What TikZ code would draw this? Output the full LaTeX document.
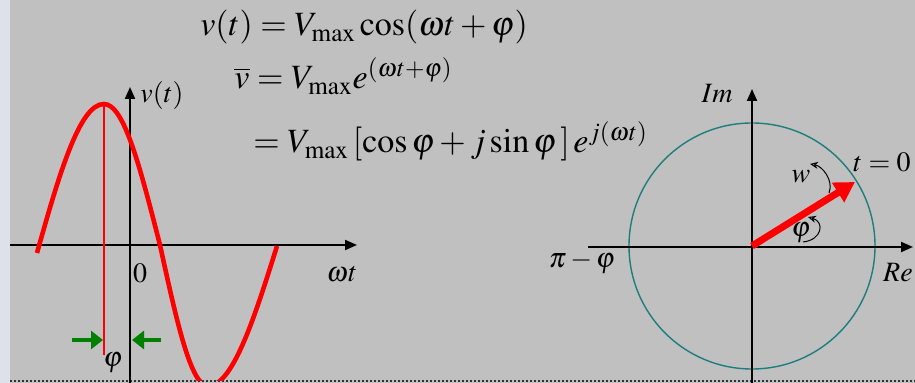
\documentclass[tikz,border=0pt]{standalone}
\usepackage{mathptmx}
\usetikzlibrary{arrows.meta}

\definecolor{bggray}{RGB}{192,192,192}
\definecolor{stripblue}{RGB}{221,226,234}
\definecolor{circteal}{RGB}{30,125,125}
\definecolor{arrgreen}{RGB}{0,128,0}

\tikzset{
  axis/.style={line width=1pt,-{Triangle[length=6pt,width=5pt]}},
  wave/.style={red,line width=2.3pt},
  phasor/.style={red,line width=3.5pt,-{Triangle[length=10pt,width=11pt]}},
  phasearrow/.style={arrgreen,line width=2.2pt,-{Triangle[length=6pt,width=9pt]}},
  curl/.style={line width=0.5pt,-{Stealth[length=4pt,width=3.5pt,open]}},
  eq/.style={font=\fontsize{17}{20}\selectfont,inner sep=0pt,anchor=base west},
  lbl/.style={font=\fontsize{14}{16}\selectfont,inner sep=0pt,anchor=base},
}

\begin{document}
\begin{tikzpicture}[x=0.5pt,y=-0.5pt]
\useasboundingbox (0,0) rectangle (915,383);
\fill[bggray] (0,0) rectangle (915,383);
\fill[stripblue] (0,0) rectangle (10,383);
\draw[gray!40!black,line width=1pt,dash pattern=on 1pt off 1pt] (10,381) -- (915,381);

% equations
\node[eq] (eq1) at (200,36) {$v(t) = V_{\max}\cos(\omega t+\varphi)$};
\node[eq] (eq2) at (234,89) {$\overline{v} = V_{\max}e^{(\omega t+\varphi)}$};
\node[eq] (eq3) at (253,153) {$= V_{\max}\,[\cos\varphi + j\sin\varphi\,]\,e^{j(\omega t)}$};

% time axis
\coordinate (xl) at (10,245);
\coordinate (xr) at (357,245);
\coordinate (yb) at (130,383);
\coordinate (yt) at (130,87);
\draw[axis] (xl) -- (xr);
\draw[axis] (yb) -- (yt);

% cosine wave
\coordinate (peak) at (104,104);
\coordinate (peakfoot) at (104,355);
\begin{scope}
\clip (0,0) rectangle (915,381);
\draw[wave] (37,253) .. controls (60,171) and (80,104) .. (peak)
  .. controls (124,104) and (140,167) .. (160,245)
  .. controls (177,323) and (191,386) .. (208,386)
  .. controls (232,386) and (253,323) .. (277,246);
\end{scope}
\draw[red,line width=0.8pt] (peak) -- (peakfoot);

% phase shift
\coordinate (gl1) at (72,340);
\coordinate (gl2) at (103,340);
\coordinate (gr1) at (161,340);
\coordinate (gr2) at (132,340);
\draw[phasearrow] (gl1) -- (gl2);
\draw[phasearrow] (gr1) -- (gr2);

\node[lbl] (vt) at (162,103) {$v(t)$};
\node[lbl] (zero) at (140,283) {$0$};
\node[lbl] (wt) at (342,282) {$\omega t$};
\node[lbl] (phia) at (113,367) {$\varphi$};

% complex plane
\coordinate (O) at (752,246);
\coordinate (rel) at (588,247);
\coordinate (rer) at (913,247);
\coordinate (imb) at (752,383);
\coordinate (imt) at (752,89);
\draw[circteal,line width=0.7pt] (O) circle[radius=61.5pt];
\draw[axis] (rel) -- (rer);
\draw[axis] (imb) -- (imt);
\coordinate (tip) at (855,182);
\draw[phasor] (O) -- (tip);

\coordinate (wa) at (829,193);
\coordinate (wb) at (810,164);
\coordinate (pa) at (803,242);
\coordinate (pb) at (808,217);
\draw[curl] (wa) .. controls (834,180) and (822,166) .. (wb);
\draw[curl] (pa) .. controls (822,240) and (825,222) .. (pb);

\node[lbl] (im) at (717,103) {$Im$};
\node[lbl] (re) at (898,282) {$Re$};
\node[lbl] (pimphi) at (582,268) {$\pi-\varphi$};
\node[lbl] (tzero) at (882,172) {$t=0$};
\node[lbl] (wlbl) at (801,183) {$w$};
\node[lbl] (phib) at (801,237) {$\varphi$};
\end{tikzpicture}
\end{document}
